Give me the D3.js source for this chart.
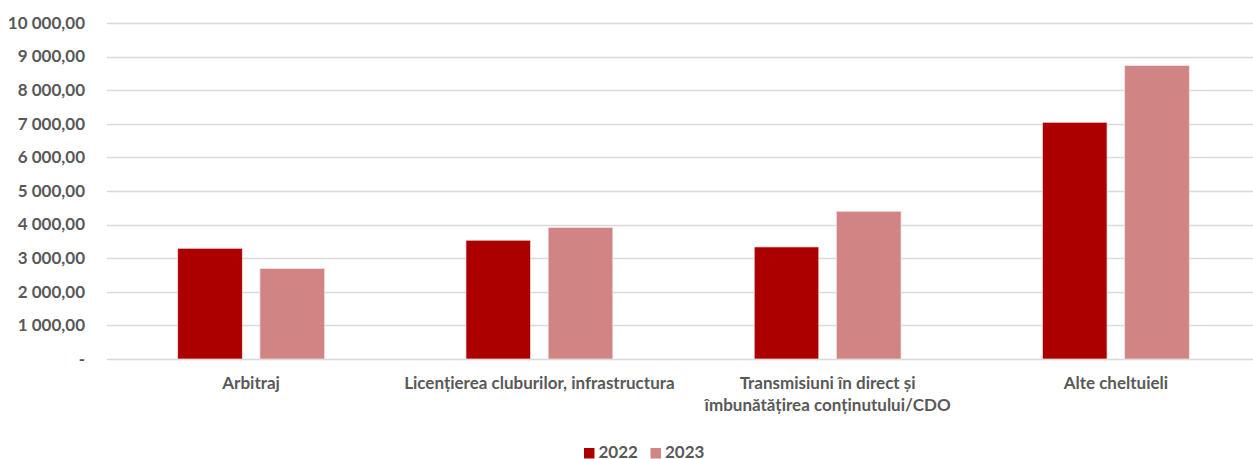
<!DOCTYPE html>
<html>
<head>
<meta charset="utf-8">
<script src="https://cdn.jsdelivr.net/npm/d3@7"></script>
<style>
  body { margin: 0; background: #fff; }
  text { font-family: Lato, "Open Sans", sans-serif; font-weight: bold; fill: #595959; }
</style>
</head>
<body>
<svg id="chart" width="1253" height="459"></svg>
<script>
const categories = ['Arbitraj', 'Licențierea cluburilor, infrastructura',
    'Transmisiuni în direct și\nîmbunătățirea conținutului/CDO', 'Alte cheltuieli']
const series = ['2022', '2023']
const values2022 = [3295, 3535, 3335, 7045]
const values2023 = [2690, 3910, 4395, 8730]
const yTicks = [0, 1000, 2000, 3000, 4000, 5000, 6000, 7000, 8000, 9000, 10000]
const colors = ['#ac0000', '#d08484']

const svg = d3.select('#chart')
const plotLeft = 107, plotRight = 1260, plotTop = 23, plotBottom = 359
const fontSize = '17px'

const x0 = d3.scaleBand()
    .domain(categories)
    .range([plotLeft, plotRight])

const x1 = d3.scaleBand()
    .domain(series)
    .range([0, x0.bandwidth()])
    .paddingInner(0.215)
    .paddingOuter(0.86)

const y = d3.scaleLinear()
    .domain([0, 10000])
    .range([plotBottom, plotTop])

// number format like "10 000,00", zero shown as "-"
function fmt(v) {
    if (v === 0) return '-'
    const s = d3.format(',.2f')(v)
    return s.replace(/,/g, ' ').replace('.', ',')
}

// gridlines
svg.append('g')
    .selectAll('line')
    .data(yTicks)
    .enter()
    .append('line')
    .attr('x1', plotLeft)
    .attr('x2', plotRight)
    .attr('y1', d => Math.round(y(d)) + 0.5)
    .attr('y2', d => Math.round(y(d)) + 0.5)
    .attr('stroke', '#d9d9d9')
    .attr('stroke-width', 1.3)

// y labels
svg.append('g')
    .selectAll('text')
    .data(yTicks)
    .enter()
    .append('text')
    .attr('x', 85)
    .attr('y', d => y(d) + 5.8)
    .attr('text-anchor', 'end')
    .style('font-size', fontSize)
    .text(fmt)

// bars
const groups = svg.append('g')
    .selectAll('g')
    .data(categories)
    .enter()
    .append('g')
    .attr('transform', d => `translate(${x0(d)},0)`)

groups.selectAll('rect')
    .data((d, i) => [values2022[i], values2023[i]].map((v, j) => ({key: series[j], value: v})))
    .enter()
    .append('rect')
    .attr('x', d => x1(d.key))
    .attr('width', x1.bandwidth())
    .attr('y', d => y(d.value))
    .attr('height', d => y(0) - y(d.value))
    .attr('fill', (d, j) => colors[j])
    .attr('stroke', '#f4dede')
    .attr('stroke-width', 0.7)

// category labels
const catLabels = svg.append('g')
    .selectAll('text')
    .data(categories)
    .enter()
    .append('text')
    .attr('x', d => x0(d) + x0.bandwidth() / 2)
    .attr('y', 389)
    .attr('text-anchor', 'middle')
    .style('font-size', fontSize)

catLabels.selectAll('tspan')
    .data(d => d.split('\n'))
    .enter()
    .append('tspan')
    .attr('x', function () { return d3.select(this.parentNode).attr('x') })
    .attr('dy', (d, i) => i === 0 ? 0 : 22)
    .text(d => d)

// legend
const legend = svg.append('g')
    .selectAll('g')
    .data(series)
    .enter()
    .append('g')
    .attr('transform', (d, i) => `translate(${584 + i * 66.5},448)`)

legend.append('rect')
    .attr('width', 10.5)
    .attr('height', 10.5)
    .attr('fill', (d, i) => colors[i])

legend.append('text')
    .attr('x', 14.5)
    .attr('y', 10.2)
    .style('font-size', fontSize)
    .text(d => d)
</script>
</body>
</html>
